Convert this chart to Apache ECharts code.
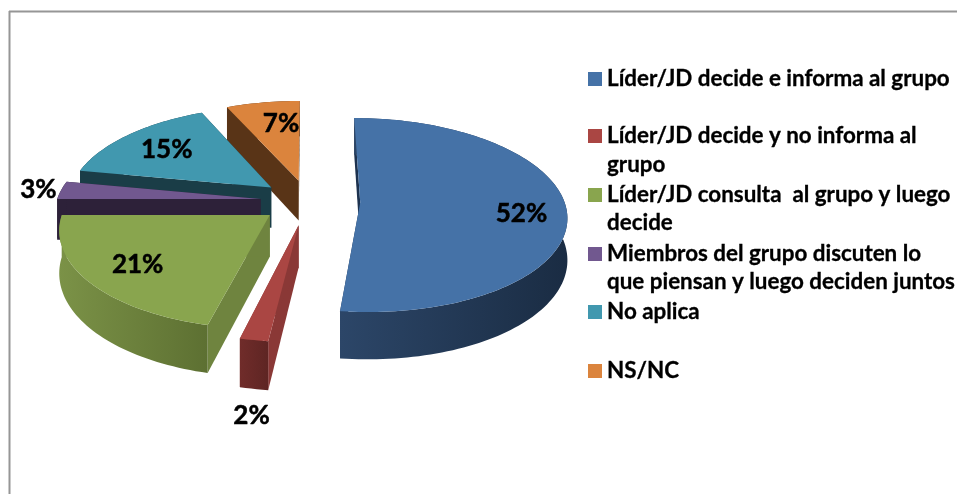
<!DOCTYPE html>
<html><head><meta charset="utf-8">
<style>html,body{margin:0;padding:0;background:#fff}#c{width:957px;height:494px}</style>
<script src="https://cdn.jsdelivr.net/npm/echarts@6/dist/echarts.min.js"></script>
</head><body><div id="c"></div>
<script>
const categories = ["Líder/JD decide e informa al grupo","Líder/JD decide y no informa al\ngrupo","Líder/JD consulta  al grupo y luego\ndecide","Miembros del grupo discuten lo\nque piensan y luego deciden juntos","No aplica","NS/NC"];
const values = [51.9, 1.9, 21.2, 3.0, 15.3, 6.7];

const topColors = ["#4572A7","#AA4643","#89A54E","#71588F","#4198AF","#DB843D"];
const innerWall = ["#1D324F","#8A3836","#6F843F","#2D2139","#1A3D47","#593417"];
const wallFrom  = ["#2C4668","#702C2A","#7B9247","#2D2139","#1A3D47","#593417"];
const wallTo    = ["#1A2C43","#5E2523","#5D7032","#2D2139","#1A3D47","#593417"];
const paintOrder = [2,5,4,3,1,0];   // rank in depth: orange, teal, blue, purple, green, red
const explode = [0.256,0.25,0.234,0.234,0.234,0.225];
const labelRadius = [0.782,1.507,0.752,1.113,0.713,0.693];
const labelShift  = [5.4,-3.8,-0.9,-0.4,-0.3,3.7];
const legendCentre = [79,136,195,254,312,371];
const secondLine = [165,223,282];
const FONT = "Lato";

const view = {cx:308, cy:201, rx:204, ry:95, p:0.13, depth:41};
const total = values.reduce((a,b)=>a+b,0);
const starts = []; values.reduce((acc,v,i)=>{starts[i]=acc; return acc+v;},0);
const rad = d=>d*Math.PI/180;
function project(X,Y,down){
  const f = 1/(1-view.p*Y);
  return [view.cx+view.rx*X*f, view.cy+view.ry*Y*f+(down?view.depth*f:0)];
}
function sliceOf(i){
  const a0 = starts[i]/total*360, a1 = (starts[i]+values[i])/total*360, mid=(a0+a1)/2;
  const ex = explode[i]*Math.sin(rad(mid)), ey = -explode[i]*Math.cos(rad(mid));
  const pt = (a,r,down)=>project(ex+r*Math.sin(rad(a)), ey-r*Math.cos(rad(a)), down);
  return {a0,a1,mid,pt};
}
function renderSlice(i){
  return function(params, api){
    api.value(0);
    const s = sliceOf(i);
    const n = Math.max(4, Math.ceil((s.a1-s.a0)/1.5));
    const arc=[], arcLow=[];
    for(let k=0;k<=n;k++){const a=s.a0+(s.a1-s.a0)*k/n; arc.push(s.pt(a,1,false)); arcLow.push(s.pt(a,1,true));}
    const apex=s.pt(0,0,false), apexLow=s.pt(0,0,true);
    const xs=arc.map(p=>p[0]); const xMin=Math.min(...xs), xMax=Math.max(...xs);
    const band = new echarts.graphic.LinearGradient(xMin,0,xMax,0,[{offset:0,color:wallFrom[i]},{offset:1,color:wallTo[i]}],true);
    const poly=(points,fill)=>({type:'polygon',shape:{points},style:{fill,stroke:null}});
    const children=[
      poly([apex,arc[0],arcLow[0],apexLow],innerWall[i]),
      poly([apex,arc[n],arcLow[n],apexLow],innerWall[i]),
      poly(arc.concat(arcLow.slice().reverse()),band),
      poly([apex].concat(arc),topColors[i])
    ];
    const la=s.mid+labelShift[i];
    const lp=s.pt(la,labelRadius[i],false);
    children.push({type:'text',z2:100,x:lp[0],y:lp[1],style:{
      text:Math.round(values[i])+'%',fill:'#000',stroke:'#000',lineWidth:0.5,font:'bold 26px '+FONT,align:'center',verticalAlign:'middle'}});
    return {type:'group',children};
  };
}
const chart = echarts.init(document.getElementById('c'),null,{renderer:'canvas'});
const lines = [];
categories.forEach(c=>{const p=c.split('\n'); if(p[1]) lines.push(p[1]);});
chart.setOption({
  animation:false,
  backgroundColor:'#fff',
  legend:categories.map((c,i)=>({
    data:[c],left:588,top:legendCentre[i]-12,padding:0,icon:'rect',itemWidth:14,itemHeight:14,
    selectedMode:false,formatter:n=>n.split('\n')[0],
    textStyle:{fontFamily:FONT,fontWeight:'bold',fontSize:22.4,color:'#000',lineHeight:24,textBorderColor:'#000',textBorderWidth:0.3}
  })),
  graphic:[
    {type:'line',silent:true,shape:{x1:9.5,y1:11,x2:9.5,y2:494},style:{stroke:'#969696',lineWidth:2}},
    {type:'line',silent:true,shape:{x1:9,y1:11.5,x2:957,y2:11.5},style:{stroke:'#969696',lineWidth:2}}
  ].concat(lines.map((t,i)=>({type:'text',silent:true,x:607,y:secondLine[i],
    style:{text:t,fill:'#000',stroke:'#000',lineWidth:0.3,font:'bold 22.4px '+FONT,verticalAlign:'middle'}}))),
  series:categories.map((c,i)=>({
    type:'custom',name:c,coordinateSystem:'none',z:2+paintOrder[i],
    itemStyle:{color:topColors[i]},
    renderItem:renderSlice(i),silent:true,
    data:[[values[i]]]
  }))
});
</script></body></html>
